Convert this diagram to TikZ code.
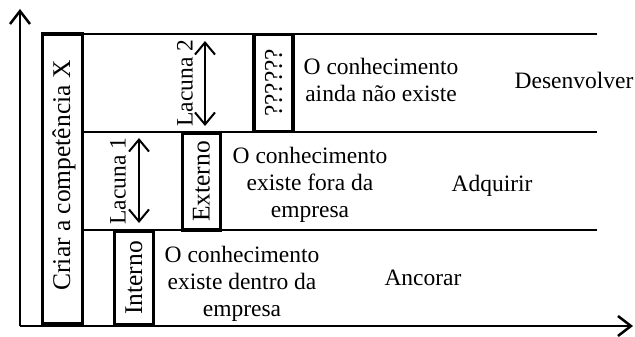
\documentclass[tikz,border=0pt]{standalone}
\usepackage{fontspec}
\setmainfont{Liberation Serif}
\usetikzlibrary{arrows.meta}
\begin{document}
\begin{tikzpicture}[x=1pt,y=-1pt,
  every node/.style={font=\fontsize{23.5}{27}\selectfont, inner sep=0pt},
  bigfont/.style={font=\fontsize{25.5}{29}\selectfont},
  thinline/.style={line width=1.6pt},
  axis/.style={line width=2.5pt, -{Straight Barb[length=13pt,width=20pt]}},
  gap/.style={line width=2pt, {Straight Barb[length=12pt,width=20pt]}-{Straight Barb[length=12pt,width=20pt]}},
  box/.style={draw, line width=3.5pt, rotate=90, anchor=center, bigfont},
  txt/.style={align=center}]
\useasboundingbox (0,0) rectangle (635,337);
% axes
\coordinate (o) at (20,326);
\coordinate (ytop) at (20,9);
\coordinate (xend) at (633,326);
\draw[axis] (o) -- (ytop);
\draw[axis] (o) -- (xend);
% horizontal level lines
\coordinate (l1a) at (82,34);  \coordinate (l1b) at (597,34);
\coordinate (l2a) at (82,132); \coordinate (l2b) at (597,132);
\coordinate (l3a) at (82,230); \coordinate (l3b) at (597,230);
\draw[thinline] (l1a) -- (l1b);
\draw[thinline] (l2a) -- (l2b);
\draw[thinline] (l3a) -- (l3b);
% main box
\node[box, minimum width=290pt, minimum height=40pt] (crbox) at (62.5,179) {};
\node[rotate=90, bigfont, anchor=base] (criar) at (70,175.5) {Criar a competência X};
% level boxes
\node[box, minimum width=97pt, minimum height=39pt] (q) at (273.5,83) {??????};
\node[box, minimum width=97pt, minimum height=38pt] (ext) at (201.5,181.5) {Externo};
\node[box, minimum width=93pt, minimum height=39pt] (int) at (134,278) {Interno};
% gaps
\coordinate (g2t) at (205,41);  \coordinate (g2b) at (205,126);
\coordinate (g1t) at (139,138); \coordinate (g1b) at (139,223);
\draw[gap] (g2t) -- (g2b);
\draw[gap] (g1t) -- (g1b);
\node[rotate=90] (lac2) at (185,83) {Lacuna 2};
\node[rotate=90] (lac1) at (118,181) {Lacuna 1};
% descriptions
\node[txt] (t3) at (381,80) {O conhecimento\\ainda não existe};
\node[txt] (t2) at (310,184.5) {O conhecimento\\existe fora da\\empresa};
\node[txt] (t1) at (242,283.5) {O conhecimento\\existe dentro da\\empresa};
\node (a3) at (574,80) {Desenvolver};
\node (a2) at (492,185.5) {Adquirir};
\node (a1) at (423,278) {Ancorar};
\end{tikzpicture}
\end{document}
